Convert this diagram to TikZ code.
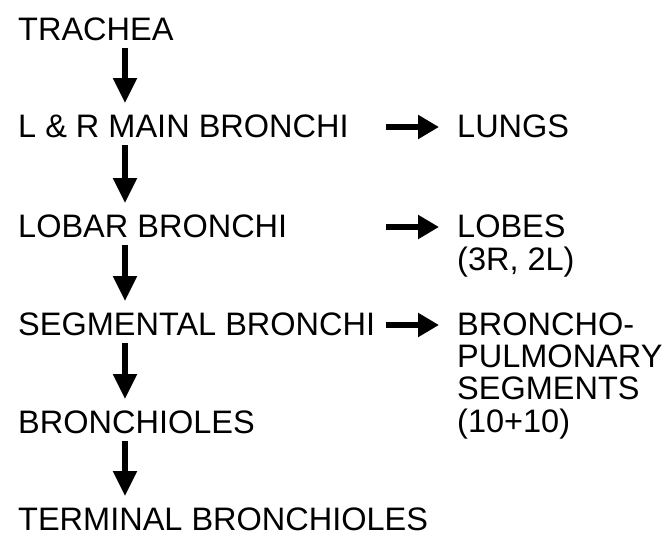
\documentclass[tikz,border=0pt]{standalone}
\usepackage{fontspec}
\setmainfont{Liberation Sans}
\usepackage{tikz}
\usetikzlibrary{arrows.meta}

\begin{document}
\begin{tikzpicture}[x=1pt,y=-1pt,every node/.style={font=\fontsize{32.5}{31.7}\selectfont,inner sep=0pt}]
\tikzset{lterm/.style={anchor=base west},
  rterm/.style={anchor=base west},
  varrow/.style={line width=5.5pt,-{Triangle[length=25pt,width=23pt]}},
  harrow/.style={line width=6pt,-{Triangle[length=21pt,width=23pt]}}}
\useasboundingbox (0,0) rectangle (668,536);
\node[lterm] (trachea) at (18,40) {TRACHEA};
\node[lterm] (mainbr) at (18,137) {L \& R MAIN BRONCHI};
\node[lterm] (lobarbr) at (18,237) {LOBAR BRONCHI};
\node[lterm] (segbr) at (18,335) {SEGMENTAL BRONCHI};
\node[lterm] (bronchioles) at (18,433) {BRONCHIOLES};
\node[lterm] (termbr) at (18,530) {TERMINAL BRONCHIOLES};
\node[rterm] (lungs) at (457,137) {LUNGS};
\node[rterm] (lobes) at (457,237) {\begin{tabular}[t]{@{}l@{}}LOBES\\(3R, 2L)\end{tabular}};
\node[rterm] (bpseg) at (457,335) {\begin{tabular}[t]{@{}l@{}}BRONCHO-\\PULMONARY\\SEGMENTS\\(10+10)\end{tabular}};
% down the airway
\draw[varrow] ([xshift=107pt,yshift=-8pt]trachea.base west) -- ([xshift=107pt,yshift=34pt]mainbr.base west);
\draw[varrow] ([xshift=107pt,yshift=-8pt]mainbr.base west) -- ([xshift=107pt,yshift=34pt]lobarbr.base west);
\draw[varrow] ([xshift=107pt,yshift=-8pt]lobarbr.base west) -- ([xshift=107pt,yshift=34pt]segbr.base west);
\draw[varrow] ([xshift=107pt,yshift=-8pt]segbr.base west) -- ([xshift=107pt,yshift=34pt]bronchioles.base west);
\draw[varrow] ([xshift=107pt,yshift=-8pt]bronchioles.base west) -- ([xshift=107pt,yshift=34pt]termbr.base west);
% what each level supplies
\draw[harrow] ([xshift=-71pt,yshift=10pt]lungs.base west) -- ([xshift=-18pt,yshift=10pt]lungs.base west);
\draw[harrow] ([xshift=-71pt,yshift=10pt]lobes.base west) -- ([xshift=-18pt,yshift=10pt]lobes.base west);
\draw[harrow] ([xshift=-71pt,yshift=10pt]bpseg.base west) -- ([xshift=-18pt,yshift=10pt]bpseg.base west);
\end{tikzpicture}
\end{document}
